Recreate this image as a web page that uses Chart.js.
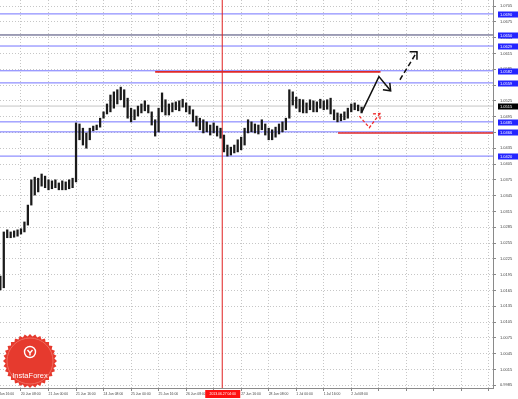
<!DOCTYPE html>
<html>
<head>
<meta charset="utf-8">
<script src="https://cdn.jsdelivr.net/npm/chart.js@4.4.0/dist/chart.umd.min.js"></script>
<style>
body { margin: 0; background: #fff; }
canvas { display: block; }
</style>
</head>
<body>
<canvas id="chart" width="518" height="399"></canvas>
<script>
// USDCAD H1, 19 Jun - 2 Jul 2013, bars merged in pairs (one per 2 hours)
const firstBar = -12
const barStep = 2
const highs = [
	1.0192, 1.0276, 1.0280, 1.0276, 1.0278, 1.0280, 1.0282, 1.0295, 1.0327, 1.0375,
	1.0380, 1.0378, 1.0386, 1.0382, 1.0375, 1.0373, 1.0375, 1.0369, 1.0373, 1.0371,
	1.0375, 1.0378, 1.0483, 1.0481, 1.0473, 1.0464, 1.0473, 1.0477, 1.0479, 1.0492,
	1.0504, 1.0519, 1.0536, 1.0542, 1.0546, 1.0551, 1.0546, 1.0530, 1.0511, 1.0508,
	1.0515, 1.0519, 1.0525, 1.0517, 1.0504, 1.0489, 1.0511, 1.0540, 1.0527, 1.0519,
	1.0521, 1.0523, 1.0525, 1.0528, 1.0521, 1.0515, 1.0508, 1.0496, 1.0492, 1.0489,
	1.0485, 1.0479, 1.0483, 1.0477, 1.0473, 1.0460, 1.0441, 1.0437, 1.0441, 1.0451,
	1.0456, 1.0473, 1.0489, 1.0485, 1.0481, 1.0479, 1.0489, 1.0481, 1.0473, 1.0470,
	1.0475, 1.0481, 1.0485, 1.0492, 1.0546, 1.0542, 1.0532, 1.0528, 1.0527, 1.0521,
	1.0527, 1.0525, 1.0523, 1.0528, 1.0525, 1.0527, 1.0530, 1.0508, 1.0502, 1.0500,
	1.0504, 1.0511, 1.0519, 1.0521, 1.0517, 1.0513
]
const lows = [
	1.0166, 1.0170, 1.0265, 1.0265, 1.0266, 1.0268, 1.0272, 1.0276, 1.0289, 1.0327,
	1.0346, 1.0352, 1.0363, 1.0360, 1.0356, 1.0358, 1.0360, 1.0356, 1.0356, 1.0356,
	1.0358, 1.0360, 1.0371, 1.0451, 1.0441, 1.0435, 1.0451, 1.0468, 1.0470, 1.0475,
	1.0492, 1.0500, 1.0504, 1.0511, 1.0519, 1.0527, 1.0513, 1.0492, 1.0485, 1.0489,
	1.0496, 1.0502, 1.0506, 1.0502, 1.0479, 1.0458, 1.0466, 1.0504, 1.0498, 1.0498,
	1.0504, 1.0508, 1.0506, 1.0513, 1.0504, 1.0500, 1.0485, 1.0477, 1.0470, 1.0464,
	1.0466, 1.0460, 1.0464, 1.0458, 1.0454, 1.0428, 1.0420, 1.0422, 1.0426, 1.0428,
	1.0432, 1.0441, 1.0464, 1.0466, 1.0464, 1.0462, 1.0470, 1.0460, 1.0451, 1.0451,
	1.0456, 1.0462, 1.0466, 1.0470, 1.0492, 1.0517, 1.0511, 1.0504, 1.0502, 1.0502,
	1.0508, 1.0504, 1.0504, 1.0511, 1.0508, 1.0509, 1.0500, 1.0489, 1.0485, 1.0487,
	1.0489, 1.0492, 1.0504, 1.0508, 1.0506, 1.0502
]

const priceTicks = [
	0.9985, 1.0015, 1.0045, 1.0075, 1.0105, 1.0135, 1.0165, 1.0195, 1.0225, 1.0255,
	1.0285, 1.0315, 1.0345, 1.0375, 1.0405, 1.0435, 1.0465, 1.0495, 1.0525, 1.0555,
	1.0585, 1.0615, 1.0645, 1.0675, 1.0705
]
const timeLabels = [
	'20 Jun 08:00', '21 Jun 00:00', '21 Jun 16:00', '24 Jun 08:00', '25 Jun 00:00',
	'25 Jun 16:00', '26 Jun 08:00', '27 Jun 00:00', '27 Jun 16:00', '28 Jun 08:00',
	'1 Jul 00:00', '1 Jul 16:00', '2 Jul 08:00'
]
const firstLabel = '19 Jun 16:00'
const markedBar = 117
const markedTime = '2013.06.27 04:00'

const blueLevels = [1.0690, 1.0650, 1.0629, 1.0582, 1.0559, 1.0485, 1.0466, 1.0420]
const currentPrice = 1.0515
const resistance = 1.0580
const support = 1.0464

const xMin = -12.2, xMax = 274.4
const yMin = 0.99797, yMax = 1.07164

const upPath = [[198.2, 1.0504], [208.1, 1.0571], [214.9, 1.0544]]
const upHead = [[210.4, 1.0546], [214.9, 1.0544], [214.4, 1.0559]]
const nextPath = [[220.3, 1.0565], [230.2, 1.0618]]
const nextHead = [[225.9, 1.0618], [230.2, 1.0618], [230.2, 1.0603]]
const dipPath = [[196.7, 1.0496], [202.5, 1.0474], [208.7, 1.0501]]
const dipHead = [[204.6, 1.0500], [208.7, 1.0501], [208.7, 1.0488]]

const candles = highs.map((h, k) => ({ x: firstBar + k * barStep, y: [lows[k], h] }))
const pts = (arr) => arr.map(p => ({ x: p[0], y: p[1] }))
const hline = (v, from, to) => [{ x: from, y: v }, { x: to, y: v }]

function lineSet(data, color, width, dash, order) {
	return { type: 'line', data: data, borderColor: color, borderWidth: width, borderDash: dash || [],
		pointRadius: 0, fill: false, tension: 0, order: order }
}

const datasets = []
datasets.push(lineSet(hline(currentPrice, xMin, xMax), '#c4c4c4', 1, null, 5))
blueLevels.forEach((v, i) => datasets.push(lineSet(hline(v, xMin, xMax), i == 1 ? '#404070' : '#7474ff', 1, null, 4)))
datasets.push(lineSet(hline(resistance, 78, 209), '#e02828', 1.6, null, 3))
datasets.push(lineSet(hline(support, 184.3, xMax), '#e02828', 1.6, null, 3))
datasets.push(lineSet([{ x: markedBar, y: yMin }, { x: markedBar, y: yMax }], '#e02020', 1, null, 3))
datasets.push({ type: 'bar', data: candles, backgroundColor: '#1a1a1a', barThickness: 1.6, order: 2 })
datasets.push(lineSet(pts(upPath), '#111', 1.5, null, 1))
datasets.push(lineSet(pts(upHead), '#111', 1.5, null, 1))
datasets.push(lineSet(pts(nextPath), '#111', 1.5, [5, 3], 1))
datasets.push(lineSet(pts(nextHead), '#111', 1.5, null, 1))
datasets.push(lineSet(pts(dipPath), '#f03030', 1.3, [3, 2], 1))
datasets.push(lineSet(pts(dipHead), '#f03030', 1.3, [3, 2], 1))

const tinyFont = { family: 'Liberation Sans', size: 4 }

// keep the plot flush with the canvas edges, as in the screenshot
function noPadding(s) {
	s.paddingTop = 0
	s.paddingBottom = 0
	s.paddingLeft = 0
	s.paddingRight = 0
}

const overlay = {
	id: 'overlay',
	afterDraw(chart) {
		const ctx = chart.ctx
		const x = chart.scales.x, y = chart.scales.y
		const area = chart.chartArea
		ctx.save()
		ctx.textBaseline = 'middle'
		ctx.font = '4px "Liberation Sans"'
		const tag = (v, bg) => {
			const py = Math.round(y.getPixelForValue(v)) + 0.5
			ctx.fillStyle = bg
			ctx.fillRect(area.right + 5, py - 3, 20, 6)
			ctx.fillStyle = '#fff'
			ctx.fillText(v.toFixed(4), area.right + 7, py)
		}
		blueLevels.forEach(v => tag(v, '#2424ff'))
		tag(currentPrice, '#000')

		// cut-off first time label
		ctx.fillStyle = '#444'
		ctx.font = '3.4px "Liberation Sans"'
		ctx.fillText(firstLabel, x.getPixelForValue(-16) + 1, area.bottom + 6)

		// date of the marked bar
		const mx = x.getPixelForValue(markedBar)
		ctx.fillStyle = '#ff1010'
		ctx.fillRect(mx - 17, area.bottom + 2, 35, 8)
		ctx.fillStyle = '#fff'
		ctx.textAlign = 'center'
		ctx.fillText(markedTime, mx + 0.5, area.bottom + 6)

		// InstaForex seal
		const cx = 30, cy = 361
		ctx.beginPath()
		for (let i = 0; i < 64; i++) {
			const a = i / 64 * Math.PI * 2
			const r = i % 2 ? 24.5 : 27
			ctx.lineTo(cx + r * Math.cos(a), cy + r * Math.sin(a))
		}
		ctx.closePath()
		ctx.fillStyle = '#e63a2e'
		ctx.fill()
		ctx.beginPath()
		ctx.arc(cx, cy, 23, 0, Math.PI * 2)
		ctx.strokeStyle = '#f06a5e'
		ctx.lineWidth = 1
		ctx.stroke()
		ctx.beginPath()
		ctx.arc(cx, cy - 9, 5.5, 0, Math.PI * 2)
		ctx.strokeStyle = '#fff'
		ctx.lineWidth = 1.4
		ctx.stroke()
		ctx.beginPath()
		ctx.moveTo(cx - 2.5, cy - 11)
		ctx.lineTo(cx, cy - 8)
		ctx.lineTo(cx + 2.5, cy - 11)
		ctx.moveTo(cx, cy - 8)
		ctx.lineTo(cx, cy - 5.5)
		ctx.stroke()
		ctx.fillStyle = '#fff'
		ctx.font = '7.5px "Liberation Sans"'
		ctx.fillText('InstaForex', cx, cy + 15)
		ctx.restore()
	}
}

new Chart(document.getElementById('chart'), {
	type: 'bar',
	data: { datasets: datasets },
	options: {
		responsive: false,
		animation: false,
		layout: { padding: 0 },
		plugins: { legend: { display: false }, tooltip: { enabled: false } },
		scales: {
			x: {
				type: 'linear',
				min: xMin,
				max: xMax,
				offset: false,
				afterFit: (s) => { s.height = 11; noPadding(s) },
				afterBuildTicks: (s) => {
					const ticks = []
					for (let v = 0; v <= xMax; v += 16) ticks.push({ value: v })
					s.ticks = ticks
				},
				grid: { offset: false, color: '#c6c6c6', tickColor: '#888', tickLength: 3 },
				border: { display: true, color: '#8a8a8a', dash: [1, 2] },
				ticks: {
					autoSkip: false, maxRotation: 0, minRotation: 0, align: 'start', padding: 1,
					color: '#444', font: { family: 'Liberation Sans', size: 3.4 },
					callback: (v) => timeLabels[v / 16] || ''
				}
			},
			y: {
				type: 'linear',
				position: 'right',
				min: yMin,
				max: yMax,
				afterFit: (s) => { s.width = 25; noPadding(s) },
				afterBuildTicks: (s) => { s.ticks = priceTicks.map(v => ({ value: v })) },
				grid: { color: '#c6c6c6', tickColor: '#888', tickLength: 3 },
				border: { display: true, color: '#8a8a8a', dash: [1, 2] },
				ticks: { padding: 4, color: '#444', font: tinyFont, callback: (v) => v.toFixed(4) }
			}
		}
	},
	plugins: [overlay]
})
</script>
</body>
</html>
